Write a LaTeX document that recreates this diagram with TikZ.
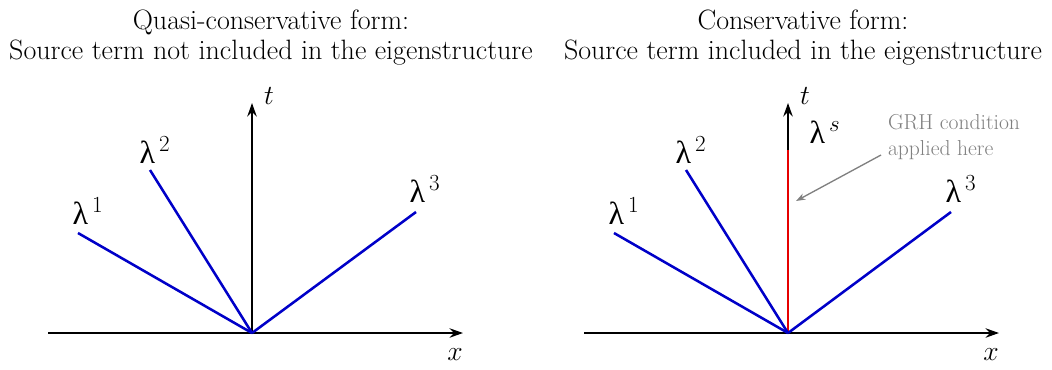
\documentclass[tikz,border=0pt]{standalone}
\usepackage{fontspec}
\usetikzlibrary{arrows.meta}
\newfontfamily\lamfont{Liberation Serif}
\newcommand{\lam}{{\lamfont λ}}
\begin{document}
\begin{tikzpicture}[x=0.75pt,y=-0.75pt,
  axis/.style={line width=1.5pt,-{Stealth[length=10pt,width=7pt]}},
  wave/.style={line width=1.9pt,draw={rgb,255:red,0;green,0;blue,200}},
  src/.style={line width=1.9pt,draw={rgb,255:red,230;green,0;blue,0}},
  lab/.style={font=\fontsize{24}{28}\selectfont,inner sep=0pt},
  axlab/.style={font=\fontsize{20}{24}\selectfont,inner sep=0pt},
  ttl/.style={font=\fontsize{21}{22.5}\selectfont,align=center,inner sep=0pt},
  note/.style={font=\fontsize{16.2}{19.8}\selectfont,align=left,inner sep=0pt,text={rgb,255:red,128;green,128;blue,128}}]
\useasboundingbox (0,0) rectangle (1052,369);
% left panel
\node[ttl] (tl) at (271,38) {Quasi-conservative form:\\Source term not included in the eigenstructure};
\coordinate (o1) at (252,333);
\coordinate (xa1) at (48,333);
\coordinate (xb1) at (463,333);
\coordinate (ta1) at (252,103);
\draw[axis] (xa1) -- (xb1);
\draw[axis] (o1) -- (ta1);
\node[axlab] (xl1) at (455,355) {$x$};
\node[axlab] (tl1) at (269,96) {$t$};
\coordinate (l1a) at (78,233);
\coordinate (l2a) at (150,170);
\coordinate (l3a) at (416,212);
\draw[wave] (o1) -- (l1a);
\draw[wave] (o1) -- (l2a);
\draw[wave] (o1) -- (l3a);
\node[lab] (L1a) at (88,211) {\lam$^{\,1}$};
\node[lab] (L2a) at (155,150) {\lam$^{\,2}$};
\node[lab] (L3a) at (425,189) {\lam$^{\,3}$};
% right panel
\node[ttl] (tr) at (803,38) {Conservative form:\\Source term included in the eigenstructure};
\coordinate (o2) at (788,333);
\coordinate (xa2) at (584,333);
\coordinate (xb2) at (999,333);
\coordinate (ta2) at (788,103);
\coordinate (s2) at (788,150);
\draw[axis] (xa2) -- (xb2);
\draw[axis] (o2) -- (ta2);
\draw[src] (o2) -- (s2);
\node[axlab] (xl2) at (991,355) {$x$};
\node[axlab] (tl2) at (805,96) {$t$};
\coordinate (l1b) at (614,233);
\coordinate (l2b) at (686,170);
\coordinate (l3b) at (951,212);
\draw[wave] (o2) -- (l1b);
\draw[wave] (o2) -- (l2b);
\draw[wave] (o2) -- (l3b);
\node[lab] (L1b) at (624,211) {\lam$^{\,1}$};
\node[lab] (L2b) at (691,150) {\lam$^{\,2}$};
\node[lab] (L3b) at (961,189) {\lam$^{\,3}$};
\node[lab] (Ls) at (825,132) {\lam$^{\,s}$};
\node[note] (grh) at (954,137) {GRH condition\\applied here};
\coordinate (as) at (881,155);
\coordinate (ap) at (796,201);
\draw[line width=1pt,draw={rgb,255:red,128;green,128;blue,128},-{Stealth[length=7pt,width=5pt]}] (as) -- (ap);
\end{tikzpicture}
\end{document}
